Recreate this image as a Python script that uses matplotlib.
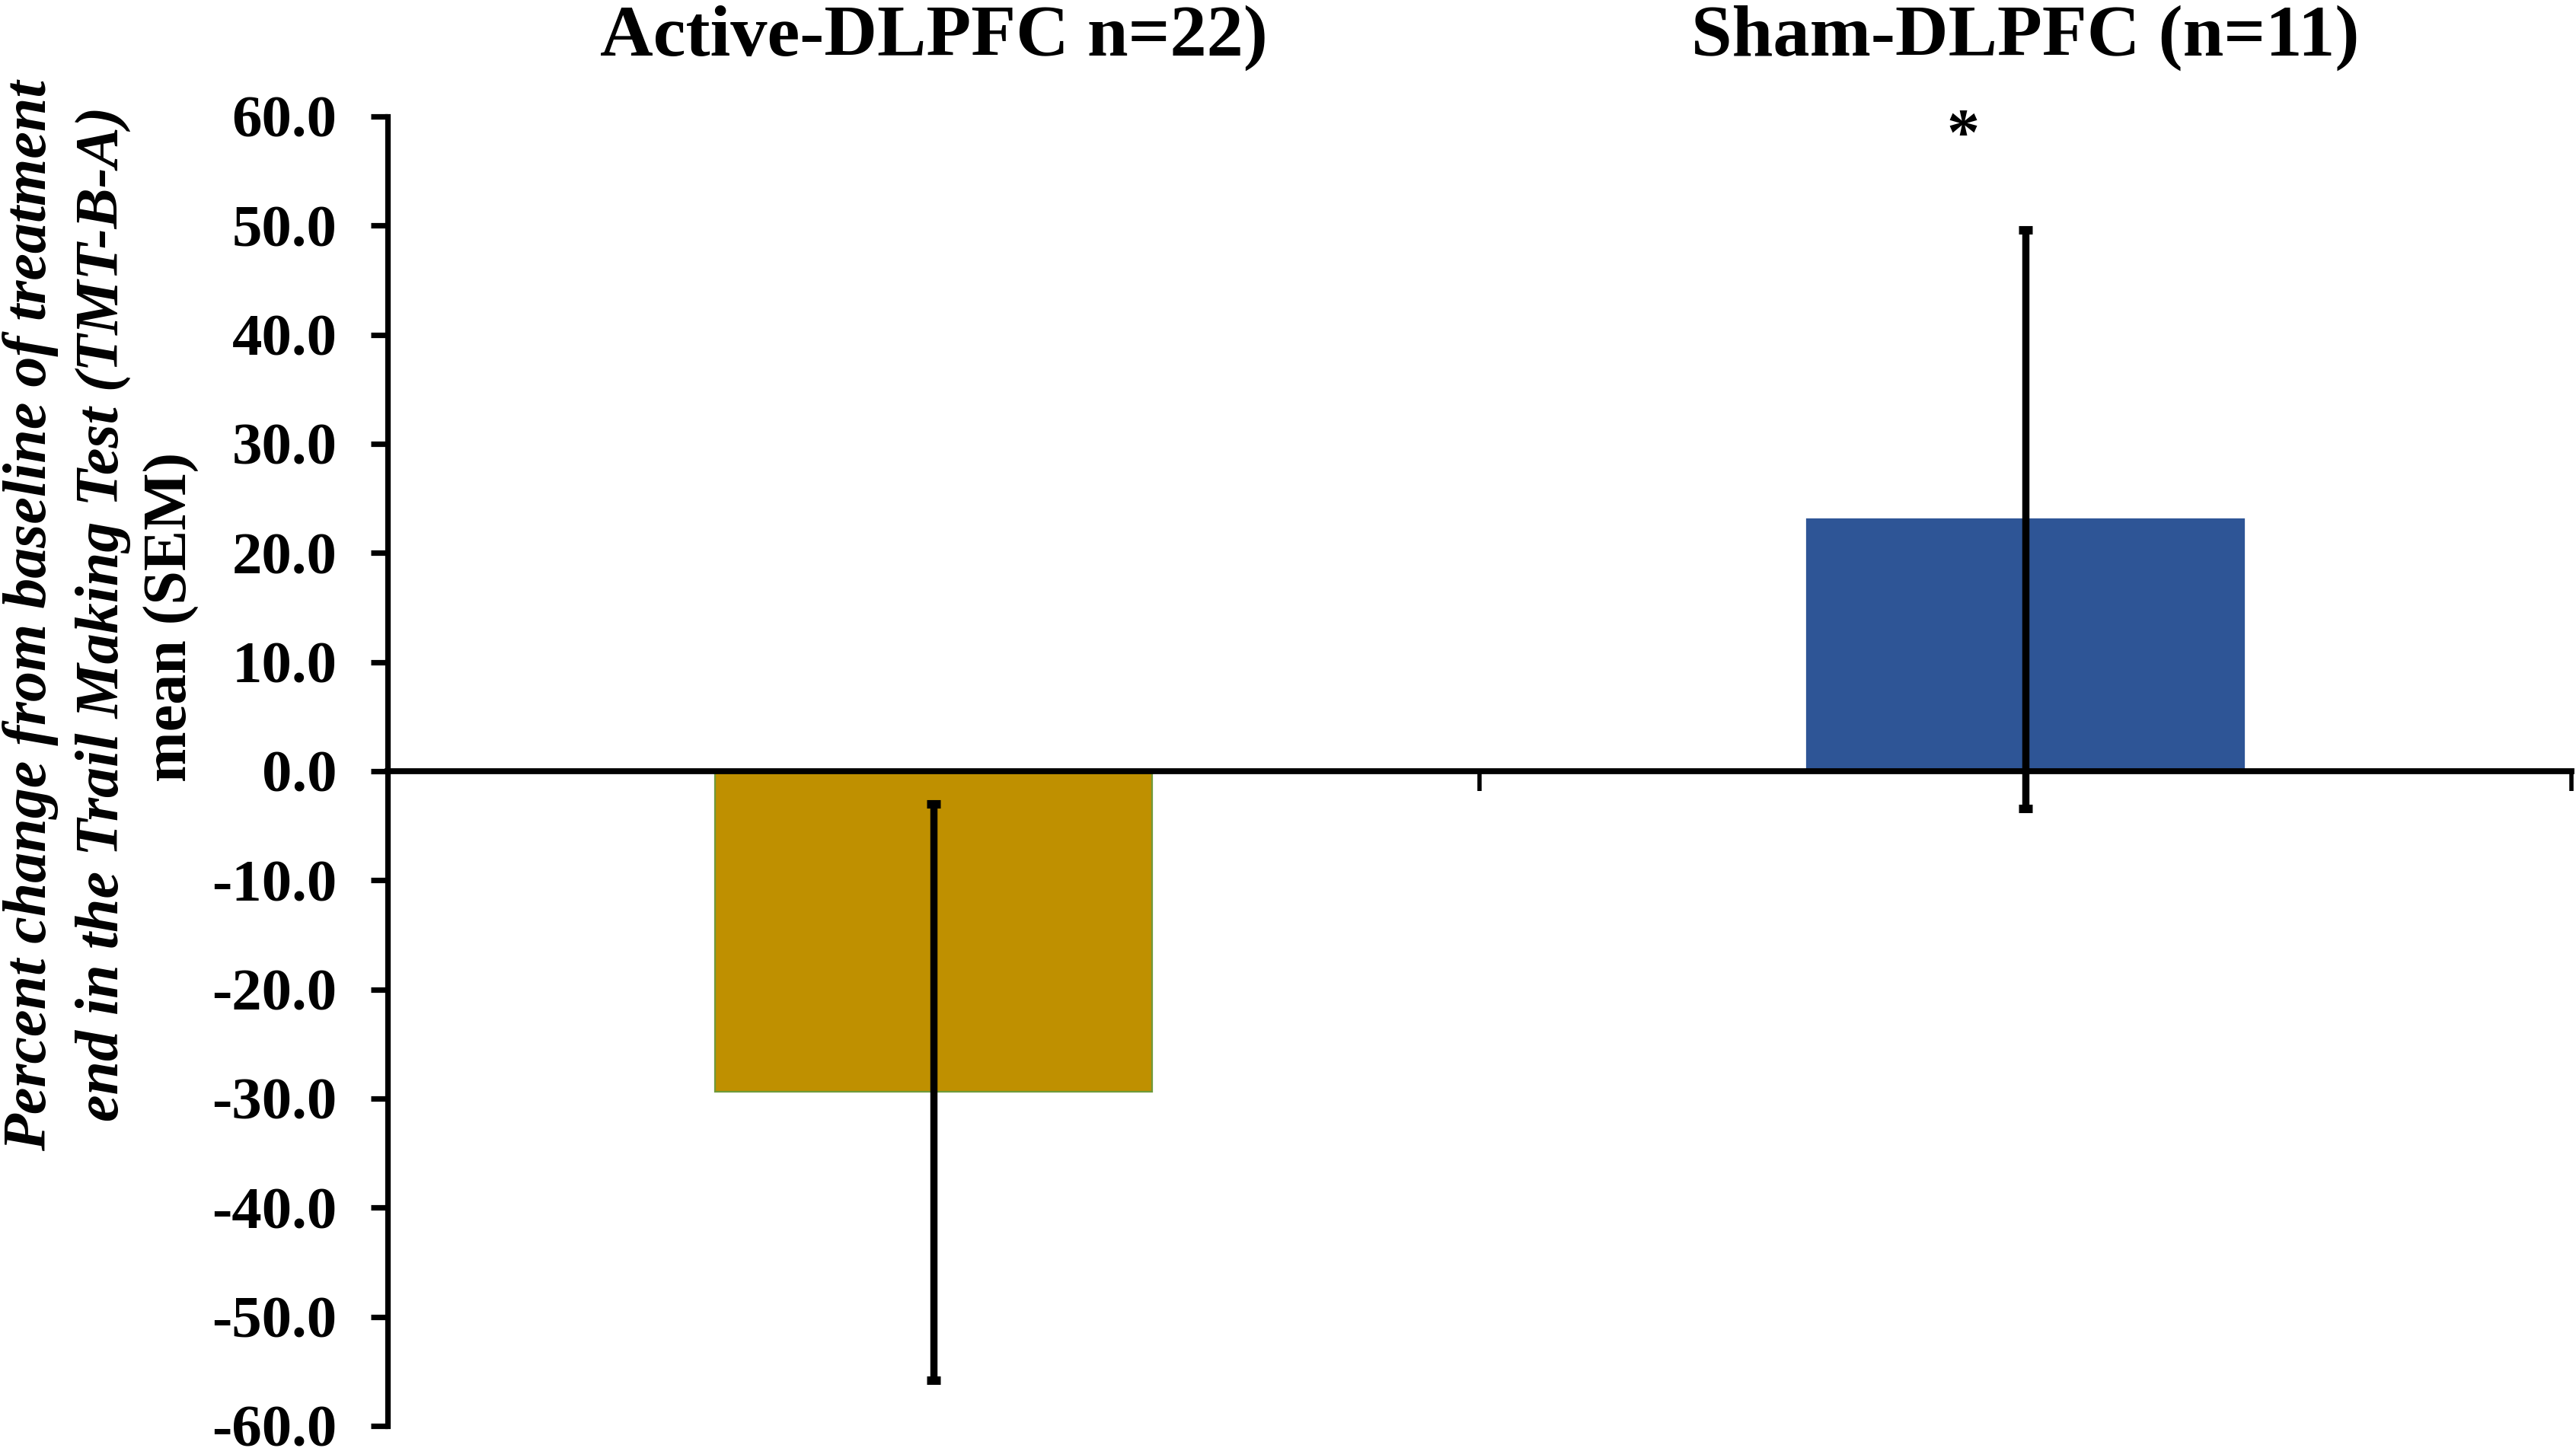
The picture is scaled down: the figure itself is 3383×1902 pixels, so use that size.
"""Percent change in TMT-B-A, active vs sham DLPFC bar chart."""

import numpy as np
import matplotlib
matplotlib.use("Agg")
import matplotlib.pyplot as plt
from matplotlib.transforms import blended_transform_factory

plt.rcParams["font.family"] = ["Liberation Serif", "DejaVu Serif"]
plt.rcParams["axes.unicode_minus"] = False

groups = ["Active-DLPFC n=22)", "Sham-DLPFC (n=11)"]
means = [-29.4, 23.1]
sems = [26.4, 26.5]
bar_colors = ["#BF9000", "#2E5596"]
bar_edges = ["#6F9A3A", "#2E5596"]
y_ticks = [-60, -50, -40, -30, -20, -10, 0, 10, 20, 30, 40, 50, 60]

fig = plt.figure(figsize=(16.915, 9.51), dpi=200)
ax = fig.add_axes([0.1505, 0.01525, 0.8477, 0.90435])

x = np.arange(len(groups))
ax.bar(x, means, width=0.4, color=bar_colors, edgecolor=bar_edges,
       linewidth=0.8, zorder=1)
ax.errorbar(x, means, yerr=sems, fmt="none", ecolor="black", elinewidth=3.4,
            capsize=3.2, capthick=4, zorder=3)

ax.set_xlim(-0.5, 1.5)
ax.set_ylim(-60, 60)
ax.set_yticks(y_ticks)
ax.set_yticklabels([f"{v:.1f}" for v in y_ticks], fontsize=28.4, fontweight="bold")
ax.set_xticks([-0.5, 0.5, 1.5])
ax.set_xticklabels([])

for side in ["top", "right"]:
    ax.spines[side].set_visible(False)
ax.spines["bottom"].set_position(("data", 0))
ax.spines["bottom"].set_linewidth(2.8)
ax.spines["left"].set_linewidth(2.6)
ax.spines["bottom"].set_zorder(2.5)
ax.tick_params(axis="y", direction="out", length=8, width=2.6, pad=16)
ax.tick_params(axis="x", direction="out", length=9.5, width=2)

# group names sit above the plot area
trans = blended_transform_factory(ax.transData, fig.transFigure)
for xi, name in zip(x, groups):
    ax.text(xi, 0.962, name, transform=trans, ha="center", va="baseline",
            fontsize=34.7, fontweight="bold", clip_on=False)

ax.text(0.943, 56.6, "*", ha="center", va="baseline", fontsize=31,
        fontweight="bold", clip_on=False)

# three-line axis title, last line upright
fig.text(0.0177, 0.575, "Percent change from baseline of treatment", rotation=90,
         rotation_mode="anchor", ha="center", va="baseline", fontsize=28.8,
         fontweight="bold", style="italic")
fig.text(0.0458, 0.576, "end in the Trail Making Test (TMT-B-A)", rotation=90,
         rotation_mode="anchor", ha="center", va="baseline", fontsize=28.8,
         fontweight="bold", style="italic")
fig.text(0.0724, 0.574, "mean (SEM)", rotation=90,
         rotation_mode="anchor", ha="center", va="baseline", fontsize=28.8,
         fontweight="bold")

fig.savefig("out.png", dpi=200)
